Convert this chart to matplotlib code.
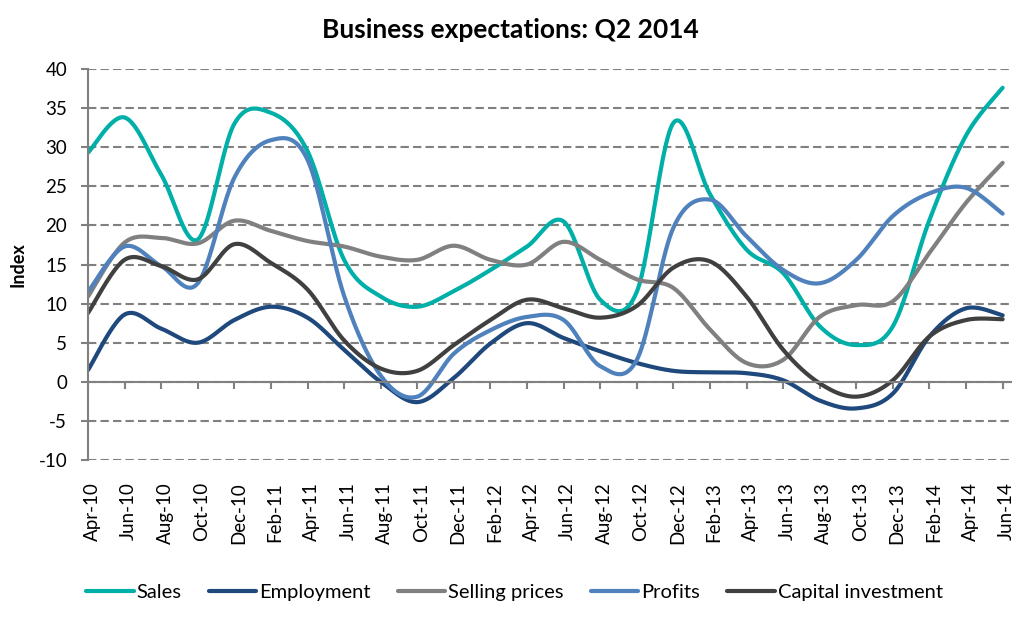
import matplotlib
matplotlib.use('Agg')
import matplotlib.pyplot as plt
import matplotlib.transforms as mtransforms
import numpy as np

plt.rcParams['font.family'] = ['Lato', 'DejaVu Sans']
plt.rcParams['axes.unicode_minus'] = False

months = ['Apr-10', 'Jun-10', 'Aug-10', 'Oct-10', 'Dec-10', 'Feb-11', 'Apr-11', 'Jun-11',
          'Aug-11', 'Oct-11', 'Dec-11', 'Feb-12', 'Apr-12', 'Jun-12', 'Aug-12', 'Oct-12',
          'Dec-12', 'Feb-13', 'Apr-13', 'Jun-13', 'Aug-13', 'Oct-13', 'Dec-13', 'Feb-14',
          'Apr-14', 'Jun-14']

sales = [29.3, 33.8, 26.5, 18.2, 33.0, 34.4, 29.5, 15.6, 10.9, 9.6, 11.6, 14.3, 17.3,
         20.5, 10.5, 11.5, 33.1, 24.0, 16.9, 13.9, 7.1, 4.7, 7.1, 20.7, 31.5, 37.6]
employment = [1.5, 8.6, 6.8, 5.0, 7.9, 9.6, 8.2, 4.1, 0.0, -2.6, 0.5, 4.9, 7.5,
              5.6, 3.9, 2.4, 1.4, 1.2, 1.1, 0.2, -2.4, -3.4, -1.5, 5.8, 9.4, 8.5]
selling_prices = [10.9, 17.8, 18.4, 17.7, 20.6, 19.3, 18.0, 17.3, 16.0, 15.6, 17.4, 15.6, 15.0,
                  17.9, 15.6, 13.1, 12.0, 6.7, 2.4, 2.8, 8.3, 9.8, 10.3, 16.5, 22.9, 28.0]
profits = [11.5, 17.3, 14.8, 12.6, 26.1, 30.9, 28.4, 11.0, 0.8, -1.9, 3.6, 6.6, 8.3,
           7.9, 2.0, 2.8, 19.7, 23.3, 18.6, 14.3, 12.6, 15.6, 21.2, 24.1, 24.8, 21.5]
capital_investment = [8.8, 15.6, 14.8, 13.1, 17.6, 15.2, 11.8, 5.3, 1.7, 1.4, 4.7, 7.9, 10.5,
                      9.4, 8.2, 9.7, 14.6, 15.4, 10.9, 4.1, -0.2, -1.9, 0.2, 5.8, 7.9, 8.0]

series = [('Sales', sales, '#00AFA8'),
          ('Employment', employment, '#1F497D'),
          ('Selling prices', selling_prices, '#808080'),
          ('Profits', profits, '#4F81BD'),
          ('Capital investment', capital_investment, '#404040')]


def smooth(x, y, n=40):
    # excel-like smoothed line (catmull-rom as bezier)
    p = np.column_stack([x, y]).astype(float)
    pe = np.vstack([p[0], p, p[-1]])
    t = np.linspace(0, 1, n)[:, None]
    out = []
    for i in range(len(p) - 1):
        p0, p1, p2, p3 = pe[i], pe[i + 1], pe[i + 2], pe[i + 3]
        c1 = p1 + (p2 - p0) / 6
        c2 = p2 - (p3 - p1) / 6
        seg = (1 - t)**3 * p1 + 3 * (1 - t)**2 * t * c1 + 3 * (1 - t) * t**2 * c2 + t**3 * p2
        out.append(seg if i == 0 else seg[1:])
    out = np.vstack(out)
    return out[:, 0], out[:, 1]


W, H = 1029, 617
fig = plt.figure(figsize=(W / 100, H / 100), dpi=100)
ax = fig.add_axes([88 / W, 1 - 460 / H, (1010.7 - 88) / W, (460 - 69) / H])

x = np.arange(len(months))
for name, vals, col in series:
    sx, sy = smooth(x, vals)
    ax.plot(sx, sy, color=col, lw=3, label=name, solid_capstyle='round')

gray = '#808080'
ax.set_ylim(-10, 40)
ax.set_yticks(np.arange(-10, 41, 5))
ax.set_xlim(0, 25.22)
ax.yaxis.grid(True, color=gray, lw=1.5, ls=(0, (4, 2)))
ax.set_axisbelow(True)

for s in ['top', 'right']:
    ax.spines[s].set_visible(False)
ax.spines['left'].set_color(gray)
ax.spines['left'].set_linewidth(1.5)
ax.spines['bottom'].set_position(('data', 0))
ax.spines['bottom'].set_color(gray)
ax.spines['bottom'].set_linewidth(1.5)

ax.set_xticks(x)
ax.tick_params(axis='x', direction='out', length=5, width=1.5, color=gray, labelbottom=False)
ax.tick_params(axis='y', direction='out', length=5, width=1.5, color=gray, labelsize=13.5, pad=10)

sec = ax.secondary_xaxis(0)
sec.set_xticks(x, months, rotation=90)
sec.tick_params(length=0, pad=16, labelsize=13.5)
sec.spines['bottom'].set_visible(False)
off = mtransforms.ScaledTranslation(4 / 100, 0, fig.dpi_scale_trans)
for lbl in sec.get_xticklabels():
    lbl.set_transform(lbl.get_transform() + off)

fig.text(18 / W, 1 - 265 / H, 'Index', rotation=90, ha='center', va='center',
         fontsize=13, fontweight='bold')
fig.text(510 / W, 1 - 30 / H, 'Business expectations: Q2 2014', ha='center', va='center',
         fontsize=19, fontweight='bold')

fig.legend(loc='center', bbox_to_anchor=(0.5, 1 - 592 / H), ncol=5, frameon=False,
           fontsize=14.5, handlelength=2.35, handletextpad=0.15, columnspacing=1.35)

fig.savefig('out.png', dpi=100)
